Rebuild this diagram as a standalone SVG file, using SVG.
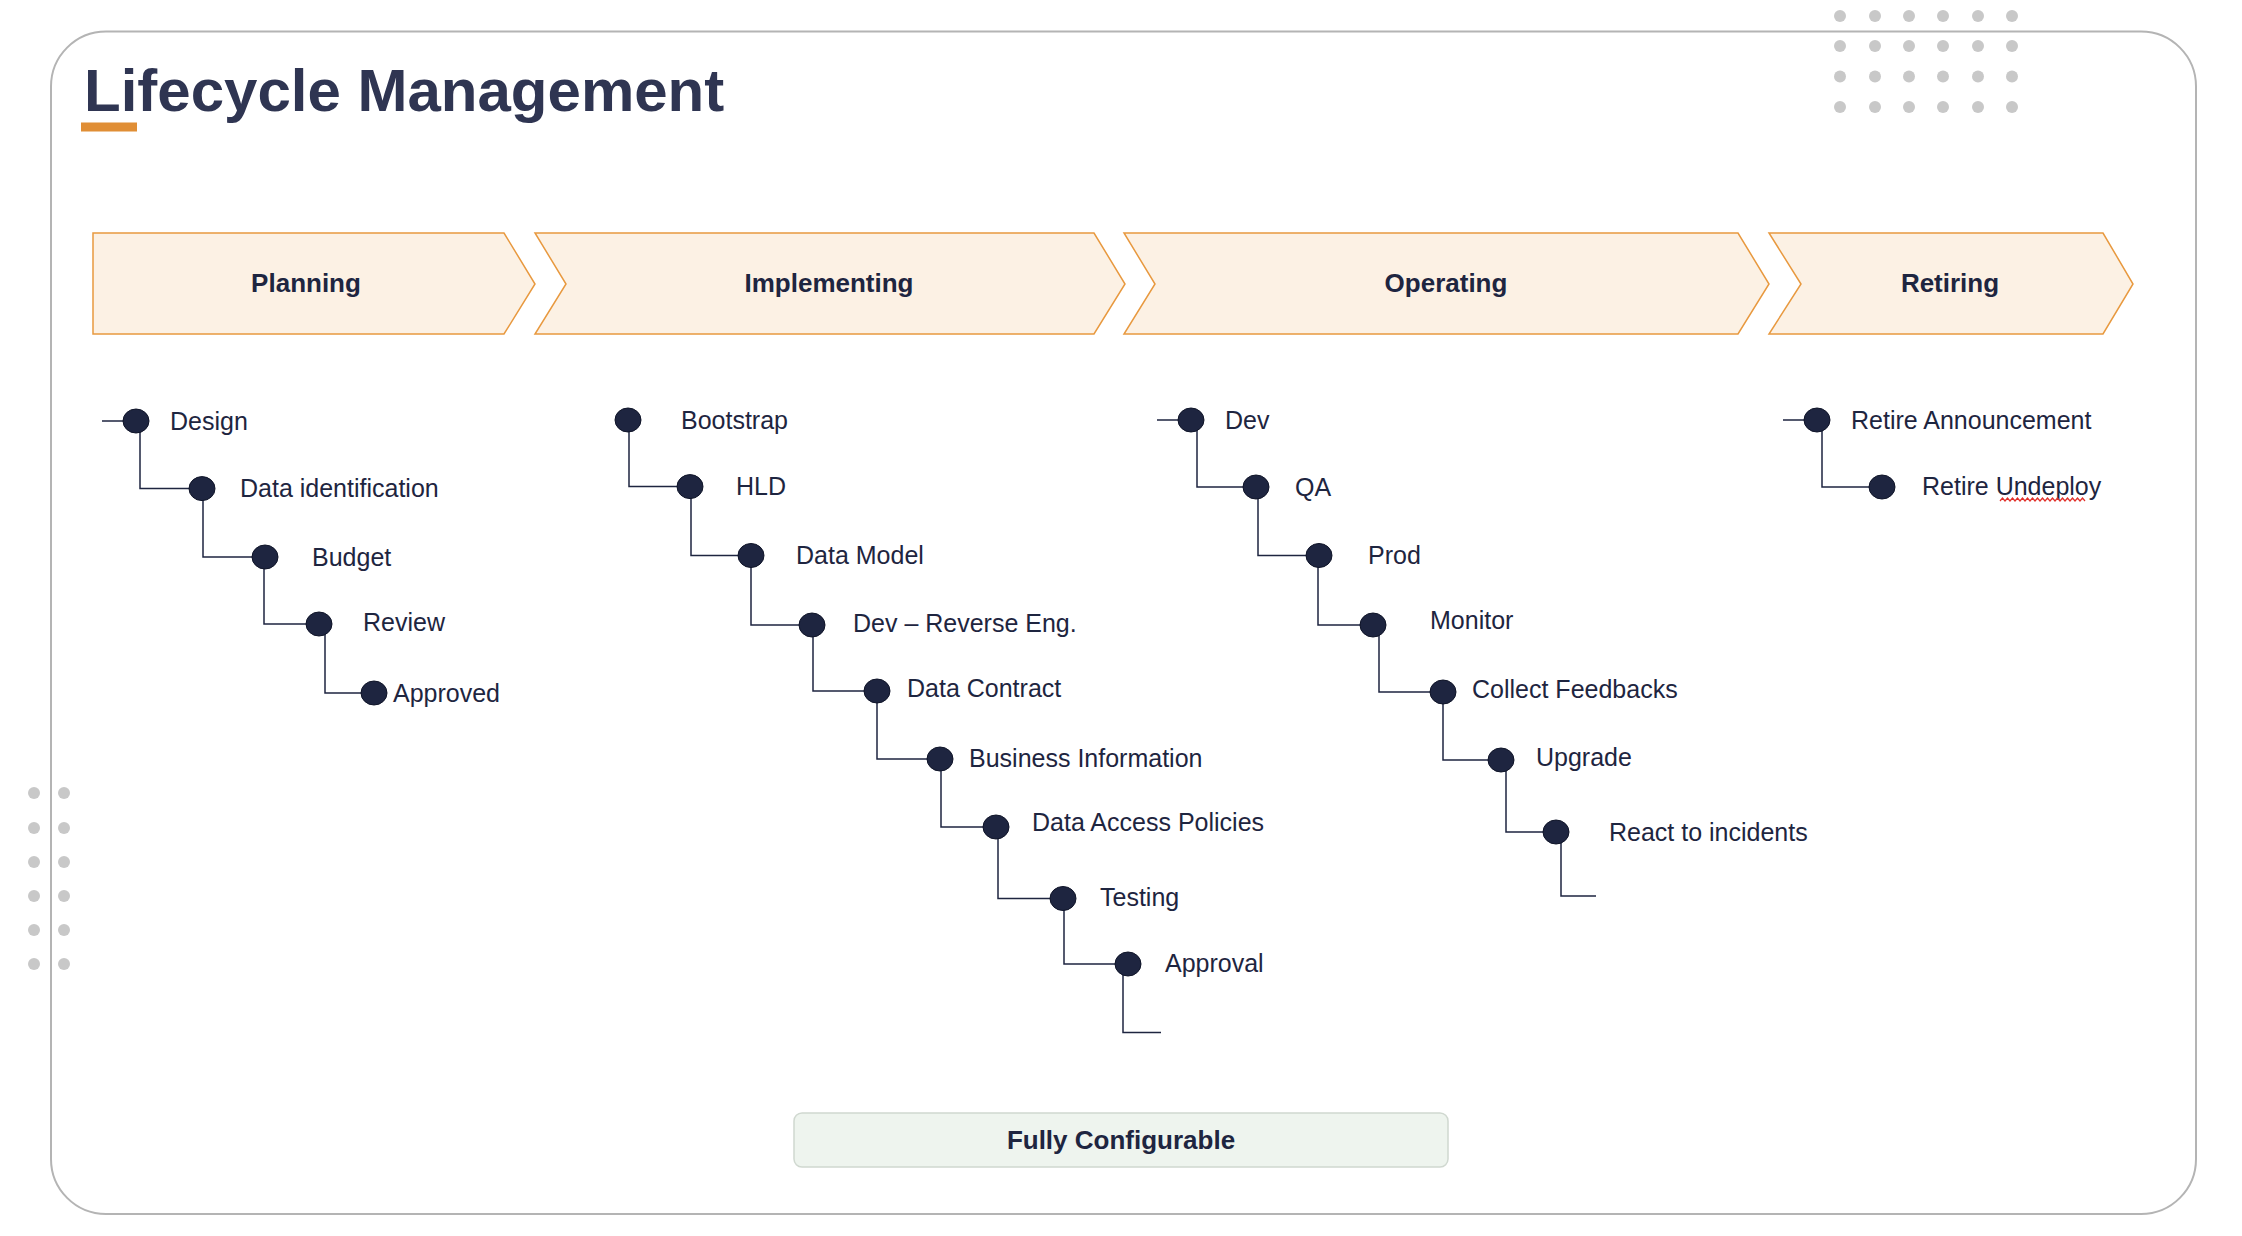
<svg xmlns="http://www.w3.org/2000/svg" width="2242" height="1236" viewBox="0 0 2242 1236">
<style>
.t{font-family:"Liberation Sans",Arial,sans-serif;font-size:25px;fill:#1e2540}
.h{font-family:"Liberation Sans",Arial,sans-serif;font-size:26px;font-weight:bold;fill:#1e2540;text-anchor:middle}
.ch{fill:#fcf1e4;stroke:#e8993f;stroke-width:1.5}
.c{fill:#1e2540;stroke:#0f1428;stroke-width:1}
.dot{fill:#c8c8c8}
.ln{fill:none;stroke:#1e2540;stroke-width:1.5}
</style>
<rect width="2242" height="1236" fill="#fff"/>
<rect x="51" y="31.5" width="2145" height="1182.5" rx="55" fill="none" stroke="#b4b4b4" stroke-width="2"/>
<text x="84" y="111" font-family="Liberation Sans,Arial,sans-serif" font-size="60" font-weight="bold" fill="#2f3552">Lifecycle Management</text>
<rect x="81" y="122.5" width="56" height="9" fill="#e08e35"/>
<g id="dots">
<g class="dot">
<circle cx="1840" cy="16" r="6"/><circle cx="1875" cy="16" r="6"/><circle cx="1909" cy="16" r="6"/><circle cx="1943" cy="16" r="6"/><circle cx="1978" cy="16" r="6"/><circle cx="2012" cy="16" r="6"/>
<circle cx="1840" cy="46" r="6"/><circle cx="1875" cy="46" r="6"/><circle cx="1909" cy="46" r="6"/><circle cx="1943" cy="46" r="6"/><circle cx="1978" cy="46" r="6"/><circle cx="2012" cy="46" r="6"/>
<circle cx="1840" cy="76.5" r="6"/><circle cx="1875" cy="76.5" r="6"/><circle cx="1909" cy="76.5" r="6"/><circle cx="1943" cy="76.5" r="6"/><circle cx="1978" cy="76.5" r="6"/><circle cx="2012" cy="76.5" r="6"/>
<circle cx="1840" cy="107" r="6"/><circle cx="1875" cy="107" r="6"/><circle cx="1909" cy="107" r="6"/><circle cx="1943" cy="107" r="6"/><circle cx="1978" cy="107" r="6"/><circle cx="2012" cy="107" r="6"/>
<circle cx="34" cy="793" r="6"/><circle cx="64" cy="793" r="6"/>
<circle cx="34" cy="828" r="6"/><circle cx="64" cy="828" r="6"/>
<circle cx="34" cy="862" r="6"/><circle cx="64" cy="862" r="6"/>
<circle cx="34" cy="896" r="6"/><circle cx="64" cy="896" r="6"/>
<circle cx="34" cy="930" r="6"/><circle cx="64" cy="930" r="6"/>
<circle cx="34" cy="964" r="6"/><circle cx="64" cy="964" r="6"/>
</g>
</g>
<g id="phase-planning"><polygon class="ch" points="93,233 504,233 535,284 504,334 93,334"/><text class="h" x="306" y="292">Planning</text></g>
<g id="phase-implementing"><polygon class="ch" points="535,233 1094,233 1125,284 1094,334 535,334 566,284"/><text class="h" x="829" y="292">Implementing</text></g>
<g id="phase-operating"><polygon class="ch" points="1124,233 1738,233 1769,284 1738,334 1124,334 1155,284"/><text class="h" x="1446" y="292">Operating</text></g>
<g id="phase-retiring"><polygon class="ch" points="1769,233 2103,233 2133,284 2103,334 1769,334 1801,284"/><text class="h" x="1950" y="292">Retiring</text></g>
<g id="connectors" class="ln">
<path d="M102,421H136M140,421V488.6H202M203,488.6V557H265M264,557V624H319M325,624V693H374"/>
<path d="M629,420V486.6H690M691,486.6V555.5H751M751,555.5V625H812M813,625V691H877M877,691V759H940M941,759V827H996M998,827V898.5H1063M1064,898.5V964H1128M1123,964V1032.5H1161"/>
<path d="M1157,420H1191M1197,420V487H1256M1258,487V555.5H1319M1318,555.5V625H1373M1379,625V692H1443M1443,692V760H1501M1506,760V832H1556M1561,832V896H1596"/>
<path d="M1783,420H1817M1822,420V487H1882"/>
</g>
<g id="n-design"><ellipse class="c" cx="136" cy="421" rx="13" ry="12"/><text class="t" x="170" y="430">Design</text></g>
<g id="n-dataid"><ellipse class="c" cx="202" cy="488.6" rx="13" ry="12"/><text class="t" x="240" y="497">Data identification</text></g>
<g id="n-budget"><ellipse class="c" cx="265" cy="557" rx="13" ry="12"/><text class="t" x="312" y="565.5">Budget</text></g>
<g id="n-review"><ellipse class="c" cx="319" cy="624" rx="13" ry="12"/><text class="t" x="363" y="631">Review</text></g>
<g id="n-approved"><ellipse class="c" cx="374" cy="693" rx="13" ry="12"/><text class="t" x="393" y="702">Approved</text></g>
<g id="n-bootstrap"><ellipse class="c" cx="628" cy="420" rx="13" ry="12"/><text class="t" x="681" y="428.5">Bootstrap</text></g>
<g id="n-hld"><ellipse class="c" cx="690" cy="486.6" rx="13" ry="12"/><text class="t" x="736" y="495">HLD</text></g>
<g id="n-datamodel"><ellipse class="c" cx="751" cy="555.5" rx="13" ry="12"/><text class="t" x="796" y="564">Data Model</text></g>
<g id="n-devrev"><ellipse class="c" cx="812" cy="625" rx="13" ry="12"/><text class="t" x="853" y="632">Dev – Reverse Eng.</text></g>
<g id="n-contract"><ellipse class="c" cx="877" cy="691" rx="13" ry="12"/><text class="t" x="907" y="697">Data Contract</text></g>
<g id="n-business"><ellipse class="c" cx="940" cy="759" rx="13" ry="12"/><text class="t" x="969" y="767">Business Information</text></g>
<g id="n-access"><ellipse class="c" cx="996" cy="827" rx="13" ry="12"/><text class="t" x="1032" y="831">Data Access Policies</text></g>
<g id="n-testing"><ellipse class="c" cx="1063" cy="898.5" rx="13" ry="12"/><text class="t" x="1100" y="906">Testing</text></g>
<g id="n-approval"><ellipse class="c" cx="1128" cy="964" rx="13" ry="12"/><text class="t" x="1165" y="972">Approval</text></g>
<g id="n-dev"><ellipse class="c" cx="1191" cy="420" rx="13" ry="12"/><text class="t" x="1225" y="428.5">Dev</text></g>
<g id="n-qa"><ellipse class="c" cx="1256" cy="487" rx="13" ry="12"/><text class="t" x="1295" y="495.5">QA</text></g>
<g id="n-prod"><ellipse class="c" cx="1319" cy="555.5" rx="13" ry="12"/><text class="t" x="1368" y="564">Prod</text></g>
<g id="n-monitor"><ellipse class="c" cx="1373" cy="625" rx="13" ry="12"/><text class="t" x="1430" y="629">Monitor</text></g>
<g id="n-feedback"><ellipse class="c" cx="1443" cy="692" rx="13" ry="12"/><text class="t" x="1472" y="698">Collect Feedbacks</text></g>
<g id="n-upgrade"><ellipse class="c" cx="1501" cy="760" rx="13" ry="12"/><text class="t" x="1536" y="766">Upgrade</text></g>
<g id="n-react"><ellipse class="c" cx="1556" cy="832" rx="13" ry="12"/><text class="t" x="1609" y="841">React to incidents</text></g>
<g id="n-announce"><ellipse class="c" cx="1817" cy="420" rx="13" ry="12"/><text class="t" x="1851" y="428.5">Retire Announcement</text></g>
<g id="n-undeploy"><ellipse class="c" cx="1882" cy="487" rx="13" ry="12"/><text class="t" x="1922" y="495">Retire Undeploy</text>
<path d="M2000,501l2.5,-3l2.5,3l2.5,-3l2.5,3l2.5,-3l2.5,3l2.5,-3l2.5,3l2.5,-3l2.5,3l2.5,-3l2.5,3l2.5,-3l2.5,3l2.5,-3l2.5,3l2.5,-3l2.5,3l2.5,-3l2.5,3l2.5,-3l2.5,3l2.5,-3l2.5,3l2.5,-3l2.5,3l2.5,-3l2.5,3l2.5,-3l2.5,3l2.5,-3l2.5,3l2.5,-3l2.5,3" fill="none" stroke="#e0302a" stroke-width="1.2"/></g>
<g id="fully-configurable"><rect x="794" y="1113" width="654" height="54" rx="8" fill="#eef4ee" stroke="#d0d8d0" stroke-width="1.5"/><text class="h" x="1121" y="1149">Fully Configurable</text></g>
</svg>
